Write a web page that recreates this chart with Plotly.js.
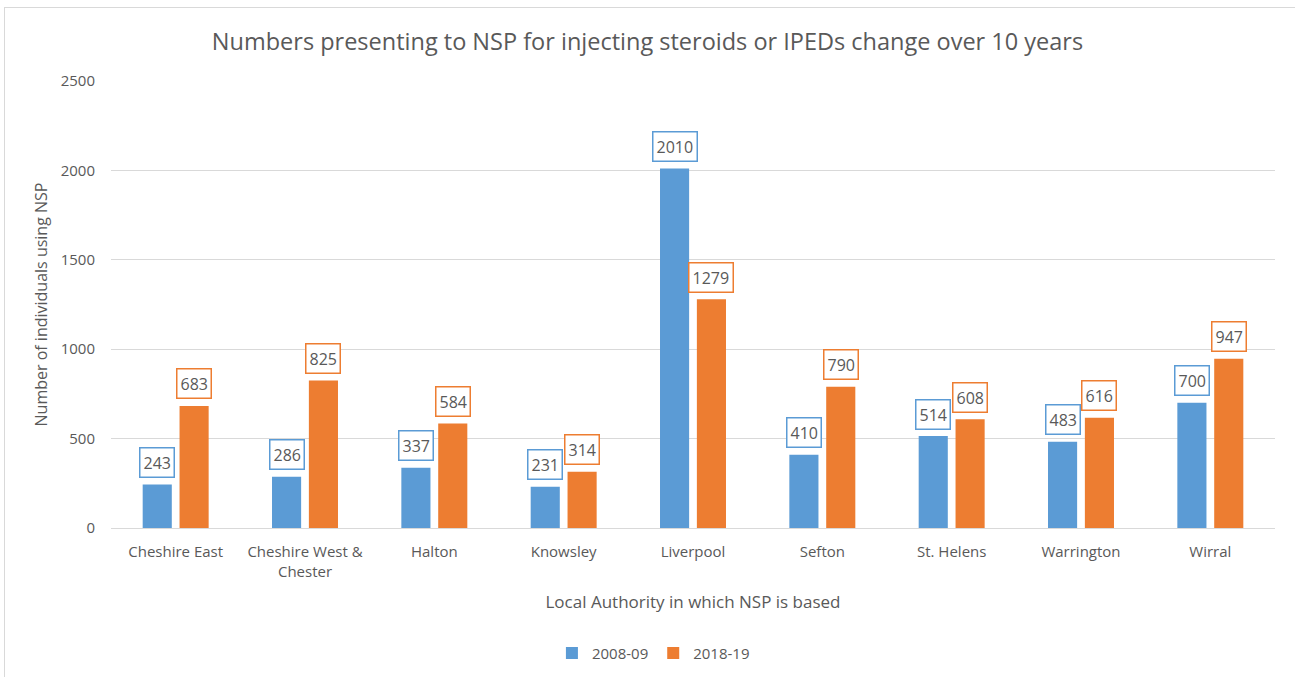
<!DOCTYPE html>
<html>
<head>
<meta charset="utf-8">
<script src="https://cdn.plot.ly/plotly-3.0.1.min.js"></script>
<style>
  html, body { margin: 0; padding: 0; background: #ffffff; overflow: hidden; }
  #chart { position: absolute; left: 0; top: 0; width: 1295px; height: 677px; }
  #frame { position: absolute; left: 4px; top: 7px; width: 1300px; height: 700px;
           border-left: 1px solid #d9d9d9; border-top: 1px solid #d9d9d9; pointer-events: none; }
</style>
</head>
<body>
<div id="chart"></div>
<div id="frame"></div>
<script>
const categories = ["Cheshire East", "Cheshire West &<br>Chester", "Halton", "Knowsley", "Liverpool", "Sefton", "St. Helens", "Warrington", "Wirral"];
const series2008 = [243, 286, 337, 231, 2010, 410, 514, 483, 700];
const series2018 = [683, 825, 584, 314, 1279, 790, 608, 616, 947];
const seriesNames = ["2008-09", "2018-19"];
const yTicks = [0, 500, 1000, 1500, 2000, 2500];

const blue = "#5B9BD5";
const orange = "#ED7D31";
const textGray = "#595959";
const fontFam = "'Open Sans', 'Noto Sans', sans-serif";

const traces = [
  { type: "bar", name: seriesNames[0], x: categories, y: series2008,
    marker: { color: blue }, hoverinfo: "skip" },
  { type: "bar", name: seriesNames[1], x: categories, y: series2018,
    marker: { color: orange }, hoverinfo: "skip" }
];

function labels(vals, color, shift) {
  return vals.map((v, i) => ({
    x: categories[i], y: v, xref: "x", yref: "y",
    text: String(v), showarrow: false,
    xshift: shift, yshift: 22,
    font: { family: fontFam, size: 16, color: textGray },
    bgcolor: "#ffffff", bordercolor: color, borderwidth: 1.5, borderpad: 3
  }));
}

const layout = {
  width: 1295, height: 677,
  paper_bgcolor: "#ffffff", plot_bgcolor: "#ffffff",
  margin: { l: 111, r: 20, t: 81, b: 149, autoexpand: false },
  title: { text: "Numbers presenting to NSP for injecting steroids or IPEDs change over 10 years",
           font: { family: fontFam, size: 23.5, color: textGray },
           x: 0.5, xanchor: "center", y: 0.938, yanchor: "middle" },
  barmode: "group", bargap: 0.43, bargroupgap: 0.21,
  showlegend: true,
  legend: { orientation: "h", x: 0.466, xanchor: "center", y: -0.28, yanchor: "middle",
            font: { family: fontFam, size: 15, color: textGray }, itemwidth: 30, traceorder: "normal" },
  xaxis: {
    type: "category", showgrid: false, zeroline: false, automargin: false,
    showline: true, linecolor: "#d9d9d9", linewidth: 1,
    ticks: "", ticklabelstandoff: 10,
    tickfont: { family: fontFam, size: 15, color: textGray },
    title: { text: "Local Authority in which NSP is based", standoff: 16,
             font: { family: fontFam, size: 17, color: textGray } }
  },
  yaxis: {
    range: [0, 2500], tickvals: yTicks, ticktext: yTicks.map(String), automargin: false,
    showgrid: true, gridcolor: "#d9d9d9", gridwidth: 1, zeroline: false,
    showline: false, ticks: "", ticklabelstandoff: 15,
    tickfont: { family: fontFam, size: 15, color: textGray },
    title: { text: "Number of individuals using NSP", standoff: 9,
             font: { family: fontFam, size: 16, color: textGray } }
  },
  annotations: labels(series2008, blue, -18.3).concat(labels(series2018, orange, 18.3))
};

Plotly.newPlot("chart", traces, layout, { displayModeBar: false, staticPlot: true });
</script>
</body>
</html>
